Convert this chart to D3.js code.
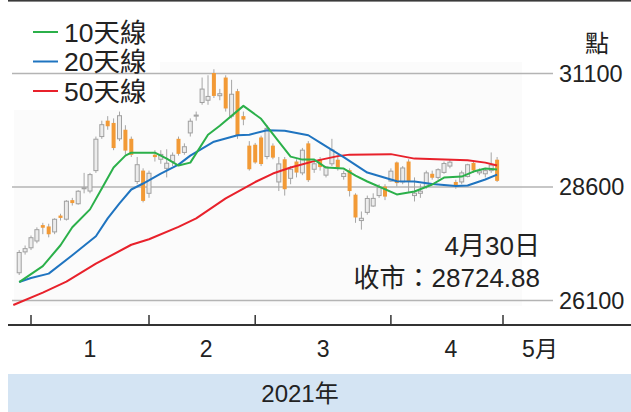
<!DOCTYPE html>
<html>
<head>
<meta charset="utf-8">
<script src="https://cdn.jsdelivr.net/npm/d3@7"></script>
<style>
  body { margin: 0; background: #fff; }
  svg { display: block; font-family: "Liberation Sans", "Noto Sans CJK TC", sans-serif; }
</style>
</head>
<body>
<div id="chart"></div>
<script>
// trading days shown (first day only carries the 50-day line)
var dates = [
  "2020-12-29", "2020-12-30", "2020-12-31",
  "2021-01-04", "2021-01-05", "2021-01-06", "2021-01-07", "2021-01-08", "2021-01-11", "2021-01-12",
  "2021-01-13", "2021-01-14", "2021-01-15", "2021-01-18", "2021-01-19", "2021-01-20", "2021-01-21",
  "2021-01-22", "2021-01-25", "2021-01-26", "2021-01-27", "2021-01-28", "2021-01-29",
  "2021-02-01", "2021-02-02", "2021-02-03", "2021-02-04", "2021-02-05", "2021-02-08", "2021-02-09",
  "2021-02-10", "2021-02-11", "2021-02-16", "2021-02-17", "2021-02-18", "2021-02-19", "2021-02-22",
  "2021-02-23", "2021-02-24", "2021-02-25", "2021-02-26",
  "2021-03-01", "2021-03-02", "2021-03-03", "2021-03-04", "2021-03-05", "2021-03-08", "2021-03-09",
  "2021-03-10", "2021-03-11", "2021-03-12", "2021-03-15", "2021-03-16", "2021-03-17", "2021-03-18",
  "2021-03-19", "2021-03-22", "2021-03-23", "2021-03-24", "2021-03-25", "2021-03-26", "2021-03-29",
  "2021-03-30", "2021-03-31",
  "2021-04-01", "2021-04-07", "2021-04-08", "2021-04-09", "2021-04-12", "2021-04-13", "2021-04-14",
  "2021-04-15", "2021-04-16", "2021-04-19", "2021-04-20", "2021-04-21", "2021-04-22", "2021-04-23",
  "2021-04-26", "2021-04-27", "2021-04-28", "2021-04-29", "2021-04-30"
];

// daily candles, aligned with dates (null = no candle)
var open = [null,
  26700, 27160, 27250, 27400, 27750, 27720, 27600, 27960, 27880, 28300, 28220, 28550, 28500, 28950,
  29700, 30050, 30000, 29650, 29850, 29650, 28710, 28950,
  28450, 29300, 29200, 29000, 29150, 29650, 29350, 29780, 30150, 30450, 30500, 31100, 30600, 31000,
  30150, 30700, 30150, 29500,
  29520, 29680, 29260, 29500, 28700, 29200, 28780, 29150, 28900, 29550, 28980, 29200, 28850, 29100,
  29190, 28820, 28960, 28420, 27850, 28030, 28170, 28400, 28600,
  28720, 29130, 28700, 29150, 28400, 28450, 28600, 28880, 28800, 28910, 29050, 28700, 28700, 28820,
  29120, 28900, 28880, 28950, 29190
];
var high = [null,
  27200, 27300, 27520, 27700, 27800, 27780, 27900, 28000, 28300, 28350, 28520, 28900, 28900, 29700,
  30050, 30150, 30100, 30250, 29950, 29700, 29250, 29000,
  28950, 29400, 29400, 29420, 29350, 29700, 29550, 30100, 30250, 31000, 31050, 31183, 30750, 31050,
  30950, 30750, 30250, 29600,
  29560, 29720, 29950, 29550, 29250, 29250, 29050, 29200, 29450, 29600, 29150, 29250, 29050, 29650,
  29250, 28950, 29000, 28450, 28050, 28400, 28450, 28650, 28650,
  29000, 29150, 29050, 29200, 28800, 28650, 28950, 28950, 29000, 29150, 29200, 28750, 28950, 29100,
  29150, 29000, 29000, 29350, 29250
];
var low = [null,
  26650, 27100, 27200, 27350, 27550, 27480, 27550, 27850, 27850, 28180, 28200, 28450, 28450, 28900,
  29650, 29850, 29400, 29600, 29300, 29250, 28650, 28250,
  28350, 29150, 29100, 28800, 29050, 29280, 29300, 29700, 30050, 30400, 30400, 30550, 30500, 30250,
  30100, 29650, 29950, 28950,
  29100, 29050, 29200, 29200, 28500, 28400, 28650, 28800, 28850, 28700, 28900, 28950, 28800, 29050,
  28950, 28750, 28380, 27800, 27650, 27980, 28150, 28350, 28300,
  28700, 28600, 28650, 28480, 28270, 28350, 28550, 28750, 28750, 28880, 29000, 28550, 28650, 28800,
  28900, 28850, 28800, 28900, 28700
];
var close = [null,
  27147, 27231, 27472, 27649, 27692, 27548, 27878, 27908, 28276, 28235, 28496, 28573, 28862, 29642,
  29962, 29927, 29447, 30159, 29391, 29297, 29080, 28283,
  28892, 29248, 29307, 29113, 29288, 29319, 29476, 30038, 30173, 30746, 30584, 30595, 30644, 30319,
  30632, 29718, 30074, 28980,
  29130, 29095, 29880, 29236, 29098, 28540, 28980, 28907, 29400, 28740, 29100, 29028, 29034, 29405,
  29017, 28885, 28500, 27918, 27900, 28336, 28338, 28577, 28378,
  28938, 28675, 29008, 28699, 28453, 28497, 28900, 28793, 28970, 29106, 29136, 28622, 28900, 29079,
  28953, 28942, 28950, 29071, 28724.88
];

// moving averages
var ma10 = [
  ["2020-12-30", 26495], ["2021-01-06", 26846], ["2021-01-11", 27306], ["2021-01-13", 27701],
  ["2021-01-18", 28096], ["2021-01-20", 28556], ["2021-01-22", 29017], ["2021-01-26", 29280],
  ["2021-01-27", 29346], ["2021-02-02", 29346], ["2021-02-04", 29214], ["2021-02-08", 29061],
  ["2021-02-10", 29126], ["2021-02-17", 29740], ["2021-02-19", 29938], ["2021-02-25", 30376],
  ["2021-03-02", 30091], ["2021-03-05", 29587], ["2021-03-09", 29258], ["2021-03-11", 29192],
  ["2021-03-15", 29192], ["2021-03-17", 29017], ["2021-03-22", 28995], ["2021-03-24", 28841],
  ["2021-03-26", 28710], ["2021-04-07", 28425], ["2021-04-12", 28490], ["2021-04-15", 28644],
  ["2021-04-19", 28797], ["2021-04-22", 28819], ["2021-04-26", 28929], ["2021-04-28", 28995],
  ["2021-04-30", 28973]
];
var ma20 = [
  ["2020-12-30", 26495], ["2021-01-04", 26583], ["2021-01-07", 26681], ["2021-01-13", 27087],
  ["2021-01-19", 27504], ["2021-01-21", 27898], ["2021-01-25", 28227], ["2021-01-27", 28534],
  ["2021-01-29", 28666], ["2021-02-03", 28885], ["2021-02-08", 29082], ["2021-02-10", 29280],
  ["2021-02-16", 29433], ["2021-02-18", 29587], ["2021-02-24", 29729], ["2021-02-26", 29740],
  ["2021-03-03", 29839], ["2021-03-08", 29828], ["2021-03-12", 29729], ["2021-03-16", 29565],
  ["2021-03-19", 29324], ["2021-03-22", 29247], ["2021-03-26", 28907], ["2021-04-07", 28716],
  ["2021-04-12", 28710], ["2021-04-15", 28655], ["2021-04-21", 28611], ["2021-04-23", 28622],
  ["2021-04-28", 28754], ["2021-04-30", 28863]
];
var ma50 = [
  ["2020-12-29", 25990], ["2021-01-06", 26264], ["2021-01-12", 26506], ["2021-01-19", 26900],
  ["2021-01-27", 27317], ["2021-02-01", 27438], ["2021-02-08", 27712], ["2021-02-11", 27898],
  ["2021-02-22", 28337], ["2021-03-01", 28699], ["2021-03-04", 28885], ["2021-03-09", 29017],
  ["2021-03-15", 29159], ["2021-03-19", 29269], ["2021-03-23", 29302], ["2021-04-01", 29313],
  ["2021-04-12", 29214], ["2021-04-23", 29177], ["2021-04-28", 29126], ["2021-04-30", 29061]
];

var yTicks = [26100, 28600, 31100];
var monthStarts = ["2021-01-04", "2021-02-01", "2021-03-01", "2021-04-01"];
var monthLabels = ["1", "2", "3", "4", "5月"];
var legendNames = ["10天線", "20天線", "50天線"];
var legendColors = ["#2bb04a", "#1f74c0", "#e8212b"];

var W = 631, H = 412;
var svg = d3.select("#chart").append("svg").attr("width", W).attr("height", H);

var x = d3.scalePoint().domain(dates).range([13.3, 497.1]);
var y = d3.scaleLinear().domain([26100, 31100]).range([300, 73]);
var step = x.step();

// top rule
svg.append("rect").attr("x", 8).attr("y", 0).attr("width", W - 8).attr("height", 1.6).attr("fill", "#3a3a3a");

// faint plot background
svg.append("rect").attr("x", 14).attr("y", 110).attr("width", 508).attr("height", 196).attr("fill", "#fbfbfb");
svg.append("rect").attr("x", 160).attr("y", 62).attr("width", 362).attr("height", 48).attr("fill", "#fbfbfb");

// gridlines + right labels
var yAxis = d3.axisRight(y).tickValues(yTicks).tickSize(-541).tickPadding(6).tickFormat(d3.format("d"));
var gy = svg.append("g").attr("transform", "translate(553,0)").call(yAxis);
gy.select(".domain").remove();
gy.selectAll("line").attr("stroke", "#b4b4b4").attr("stroke-width", 1.5);
gy.selectAll("text").attr("font-size", "23.5px").attr("fill", "#222").attr("dy", "0.36em")
  .style("font-family", "'Liberation Sans', sans-serif");

svg.append("text").attr("x", 597).attr("y", 52).attr("text-anchor", "middle")
  .attr("font-size", "24px").attr("fill", "#222").text("點");

// candles
var candles = dates.map(function(d, i) {
  return { date: d, o: open[i], h: high[i], l: low[i], c: close[i] };
}).filter(function(d) { return d.o != null; });

var cw = 4;
var cg = svg.append("g");
cg.selectAll("line.wick").data(candles).enter().append("line")
  .attr("x1", function(d) { return x(d.date); })
  .attr("x2", function(d) { return x(d.date); })
  .attr("y1", function(d) { return y(d.h); })
  .attr("y2", function(d) { return y(d.l); })
  .attr("stroke", "#a6a6a6").attr("stroke-width", 1);
cg.selectAll("rect.body").data(candles).enter().append("rect")
  .attr("x", function(d) { return x(d.date) - cw / 2; })
  .attr("y", function(d) { return y(Math.max(d.o, d.c)); })
  .attr("width", cw)
  .attr("height", function(d) { return Math.max(1, Math.abs(y(d.o) - y(d.c))); })
  .attr("fill", function(d) { return d.c >= d.o ? "#ececec" : "#f29a36"; })
  .attr("stroke", function(d) { return d.c >= d.o ? "#a0a0a0" : "none"; })
  .attr("stroke-width", 1);

// moving average lines
var line = d3.line().x(function(d) { return x(d[0]); }).y(function(d) { return y(d[1]); });
[ma50, ma20, ma10].forEach(function(s, k) {
  svg.append("path").datum(s).attr("d", line).attr("fill", "none")
    .attr("stroke", legendColors[2 - k]).attr("stroke-width", 2).attr("stroke-linejoin", "round");
});

// legend
legendNames.forEach(function(name, i) {
  var ly = 32 + i * 29.5;
  svg.append("line").attr("x1", 33).attr("x2", 58).attr("y1", ly).attr("y2", ly)
    .attr("stroke", legendColors[i]).attr("stroke-width", 2);
  svg.append("text").attr("x", 64).attr("y", ly + 9.5).attr("font-size", "26.5px").attr("fill", "#222").text(name);
});

// close annotation
svg.append("text").attr("x", 540).attr("y", 255).attr("text-anchor", "end")
  .attr("font-size", "26px").attr("fill", "#222").text("4月30日");
svg.append("text").attr("x", 540).attr("y", 287).attr("text-anchor", "end")
  .attr("font-size", "26px").attr("fill", "#222").text("收市：28724.88");

// x axis
var tickXs = monthStarts.map(function(d) { return x(d); });
tickXs.push(x(dates[dates.length - 1]) + step);
svg.append("line").attr("x1", 8).attr("x2", W).attr("y1", 325).attr("y2", 325)
  .attr("stroke", "#333").attr("stroke-width", 1.8);
svg.selectAll("line.mt").data(tickXs).enter().append("line")
  .attr("x1", function(d) { return d; }).attr("x2", function(d) { return d; })
  .attr("y1", 315).attr("y2", 325).attr("stroke", "#333").attr("stroke-width", 1.5);
svg.selectAll("text.ml").data(monthLabels).enter().append("text")
  .attr("x", function(d, i) { return i < 4 ? (tickXs[i] + tickXs[i + 1]) / 2 + (i % 2) * 4 : tickXs[4] + 37; })
  .attr("y", 357).attr("text-anchor", "middle").attr("font-size", "23px").attr("fill", "#222")
  .text(function(d) { return d; });

// year band
svg.append("rect").attr("x", 8).attr("y", 374).attr("width", W - 8).attr("height", H - 374).attr("fill", "#d4e4f3");
svg.append("text").attr("x", 300).attr("y", 402).attr("text-anchor", "middle")
  .attr("font-size", "24px").attr("fill", "#222").text("2021年");
</script>
</body>
</html>
